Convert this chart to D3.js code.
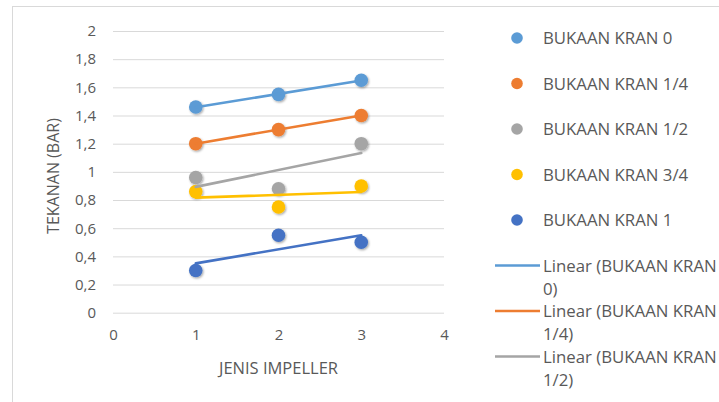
<!DOCTYPE html>
<html>
<head>
<meta charset="utf-8">
<script src="https://cdn.jsdelivr.net/npm/d3@7"></script>
<style>
  html, body { margin: 0; padding: 0; background: #fff; }
  svg { display: block; font-family: "Open Sans", Lato, sans-serif; }
</style>
</head>
<body>
<svg id="chart" width="719" height="402"></svg>
<script>
// Pressure readings per impeller type, one series per valve opening
const impellers = [1, 2, 3];
const seriesNames = ["BUKAAN KRAN 0", "BUKAAN KRAN 1/4", "BUKAAN KRAN 1/2", "BUKAAN KRAN 3/4", "BUKAAN KRAN 1"];
const seriesColors = ["#5B9BD5", "#ED7D31", "#A5A5A5", "#FFC000", "#4472C4"];
const kran0 = [1.46, 1.55, 1.65];
const kran14 = [1.2, 1.3, 1.4];
const kran12 = [0.96, 0.88, 1.2];
const kran34 = [0.86, 0.75, 0.9];
const kran1 = [0.3, 0.55, 0.5];
const xTicks = [0, 1, 2, 3, 4];
const yTicks = [0, 0.2, 0.4, 0.6, 0.8, 1, 1.2, 1.4, 1.6, 1.8, 2];
const xTitle = "JENIS IMPELLER";
const yTitle = "TEKANAN (BAR)";
// only the first trendline entries fit in the legend box
const trendLegendCount = 3;

const seriesValues = [kran0, kran14, kran12, kran34, kran1];
const series = seriesNames.map((name, i) => ({
  name, color: seriesColors[i],
  points: impellers.map((x, j) => ({ x, y: seriesValues[i][j] }))
}));

// least-squares line through each series
function linearFit(pts) {
  const mx = d3.mean(pts, p => p.x), my = d3.mean(pts, p => p.y);
  const sxy = d3.sum(pts, p => (p.x - mx) * (p.y - my));
  const sxx = d3.sum(pts, p => (p.x - mx) ** 2);
  const b = sxy / sxx, a = my - b * mx;
  const xs = d3.extent(pts, p => p.x);
  return xs.map(x => ({ x, y: a + b * x }));
}

const svg = d3.select("#chart");
const textColor = "#595959";

// chart frame
svg.append("rect")
  .attr("x", 12.5).attr("y", 6.5)
  .attr("width", 760).attr("height", 420)
  .attr("fill", "none").attr("stroke", "#D9D9D9").attr("stroke-width", 1);

const x = d3.scaleLinear().domain([0, 4]).range([113, 444]);
const y = d3.scaleLinear().domain([0, 2]).range([312.7, 31]);

const defs = svg.append("defs");
const f = defs.append("filter").attr("id", "shadow")
  .attr("x", "-50%").attr("y", "-50%").attr("width", "200%").attr("height", "200%");
f.append("feDropShadow").attr("dx", 1).attr("dy", 1.2).attr("stdDeviation", 1.1)
  .attr("flood-color", "#000").attr("flood-opacity", 0.35);

// horizontal gridlines and value labels
const yAxis = d3.axisLeft(y).tickValues(yTicks)
  .tickSize(-(x.range()[1] - x.range()[0]))
  .tickPadding(17)
  .tickFormat(d => d3.format("~g")(d).replace(".", ","));
const gy = svg.append("g").attr("transform", `translate(${x.range()[0]},0)`).call(yAxis);
gy.select(".domain").remove();
gy.selectAll(".tick line").attr("stroke", "#D9D9D9").attr("stroke-width", 1);
gy.selectAll(".tick text").attr("fill", textColor).attr("font-size", 15).attr("font-family", "'Open Sans', sans-serif");

const xAxis = d3.axisBottom(x).tickValues(xTicks).tickSize(0).tickPadding(17)
  .tickFormat(d3.format("d"));
const gx = svg.append("g").attr("transform", `translate(0,${y(0)})`).call(xAxis);
gx.select(".domain").remove();
gx.selectAll(".tick text").attr("fill", textColor).attr("font-size", 15).attr("font-family", "'Open Sans', sans-serif");

// axis titles
svg.append("text")
  .attr("x", (x.range()[0] + x.range()[1]) / 2).attr("y", 374)
  .attr("text-anchor", "middle").attr("fill", textColor).attr("font-size", 16.5)
  .text(xTitle);
svg.append("text")
  .attr("transform", `translate(59,176) rotate(-90)`)
  .attr("text-anchor", "middle").attr("fill", textColor).attr("font-size", 16)
  .text(yTitle);

const line = d3.line().x(d => x(d.x)).y(d => y(d.y));

// markers
series.forEach(s => {
  svg.append("g").selectAll("circle").data(s.points).join("circle")
    .attr("cx", d => x(d.x)).attr("cy", d => y(d.y)).attr("r", 6.8)
    .attr("fill", s.color).attr("filter", "url(#shadow)");
});

// trendlines drawn over the markers
series.forEach(s => {
  svg.append("path").datum(linearFit(s.points))
    .attr("d", line).attr("fill", "none")
    .attr("stroke", s.color).attr("stroke-width", 2.6).attr("stroke-linecap", "round");
});

// legend: marker entries
const legendX = 517, legendTextX = 543, legendY0 = 38, legendStep = 45.5;
const lg = svg.append("g").attr("font-size", 16.8).attr("fill", textColor);
series.forEach((s, i) => {
  const cy = legendY0 + i * legendStep;
  lg.append("circle").attr("cx", legendX).attr("cy", cy).attr("r", 5.8).attr("fill", s.color);
  lg.append("text").attr("x", legendTextX).attr("y", cy).attr("dy", "0.36em")
    .attr("fill", textColor).text(s.name);
});

// legend: trendline entries (wrapped over two lines)
series.slice(0, trendLegendCount).forEach((s, i) => {
  const cy = legendY0 + (5 + i) * legendStep;
  lg.append("line").attr("x1", 495).attr("x2", 540).attr("y1", cy).attr("y2", cy)
    .attr("stroke", s.color).attr("stroke-width", 2.6);
  const label = "Linear (" + s.name + ")";
  const cut = label.lastIndexOf(" ");
  const t = lg.append("text").attr("x", legendTextX).attr("y", cy).attr("dy", "0.36em")
    .attr("fill", textColor);
  t.append("tspan").attr("x", legendTextX).text(label.slice(0, cut));
  t.append("tspan").attr("x", legendTextX).attr("dy", 23).text(label.slice(cut + 1));
});
</script>
</body>
</html>
